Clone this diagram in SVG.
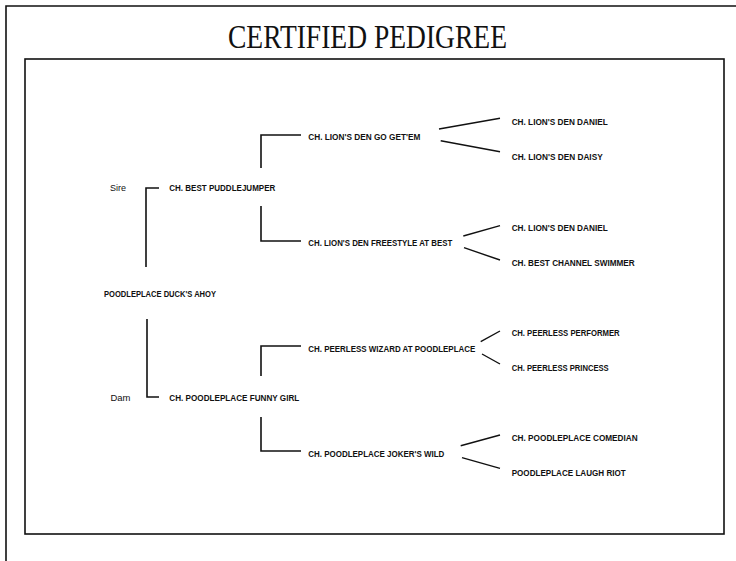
<svg xmlns="http://www.w3.org/2000/svg" width="736" height="561" viewBox="0 0 736 561">
<style>
.frame{fill:none;stroke:#111;stroke-width:1.6}
.title{font-family:"Liberation Serif","Times New Roman",serif;font-size:34px;fill:#111}
.name{font-family:"Liberation Sans",Arial,sans-serif;font-size:9.4px;font-weight:bold;fill:#111}
.lbl{font-family:"Liberation Sans",Arial,sans-serif;font-size:9px;fill:#111}
.br{fill:none;stroke:#111;stroke-width:1.6}
.fk{fill:none;stroke:#111;stroke-width:1.4}
</style>
<rect width="736" height="561" fill="#fff"/>
<g id="frame">
<path class="frame" d="M736 6 H6 V561"/>
<rect class="frame" x="25" y="59" width="699" height="475"/>
<text class="title" x="367.5" y="48" text-anchor="middle" textLength="279" lengthAdjust="spacingAndGlyphs">CERTIFIED PEDIGREE</text>
</g>
<g id="connectors">
<path class="br" d="M159 188 H146 V267"/>
<path class="br" d="M147 319 V397 H159"/>
<path class="br" d="M301 135 H261 V168"/>
<path class="br" d="M261 206 V241 H301"/>
<path class="br" d="M301 346 H261 V376"/>
<path class="br" d="M261 417 V451 H301"/>
<path class="fk" d="M439 129 L500 118.3 M440.7 140.7 L500 151.7"/>
<path class="fk" d="M463.3 236 L500 225.7 M464 247.7 L500 260"/>
<path class="fk" d="M480.7 341.7 L500 331 M482 354 L500 364"/>
<path class="fk" d="M460.7 445.7 L500 435 M462 457.7 L500 468.3"/>
</g>
<g id="label-sire"><text class="lbl" x="110" y="191" textLength="16" lengthAdjust="spacingAndGlyphs">Sire</text></g>
<g id="label-dam"><text class="lbl" x="110.5" y="400.5" textLength="20" lengthAdjust="spacingAndGlyphs">Dam</text></g>
<g id="subject"><text class="name" x="104" y="296.5" textLength="112" lengthAdjust="spacingAndGlyphs">POODLEPLACE DUCK'S AHOY</text></g>
<g id="sire"><text class="name" x="169.3" y="191" textLength="106" lengthAdjust="spacingAndGlyphs">CH. BEST PUDDLEJUMPER</text></g>
<g id="dam"><text class="name" x="169.3" y="400.5" textLength="130" lengthAdjust="spacingAndGlyphs">CH. POODLEPLACE FUNNY GIRL</text></g>
<g id="ss"><text class="name" x="308.3" y="140.3" textLength="112" lengthAdjust="spacingAndGlyphs">CH. LION'S DEN GO GET'EM</text></g>
<g id="sd"><text class="name" x="308.3" y="245.5" textLength="144" lengthAdjust="spacingAndGlyphs">CH. LION'S DEN FREESTYLE AT BEST</text></g>
<g id="ds"><text class="name" x="308.3" y="351.5" textLength="167" lengthAdjust="spacingAndGlyphs">CH. PEERLESS WIZARD AT POODLEPLACE</text></g>
<g id="dd"><text class="name" x="308.3" y="457" textLength="136" lengthAdjust="spacingAndGlyphs">CH. POODLEPLACE JOKER'S WILD</text></g>
<g id="sss"><text class="name" x="511.7" y="125" textLength="96" lengthAdjust="spacingAndGlyphs">CH. LION'S DEN DANIEL</text></g>
<g id="ssd"><text class="name" x="511.7" y="160" textLength="91" lengthAdjust="spacingAndGlyphs">CH. LION'S DEN DAISY</text></g>
<g id="sds"><text class="name" x="511.7" y="230.5" textLength="96" lengthAdjust="spacingAndGlyphs">CH. LION'S DEN DANIEL</text></g>
<g id="sdd"><text class="name" x="511.7" y="266" textLength="123" lengthAdjust="spacingAndGlyphs">CH. BEST CHANNEL SWIMMER</text></g>
<g id="dss"><text class="name" x="511.7" y="336" textLength="108" lengthAdjust="spacingAndGlyphs">CH. PEERLESS PERFORMER</text></g>
<g id="dsd"><text class="name" x="511.7" y="371" textLength="97" lengthAdjust="spacingAndGlyphs">CH. PEERLESS PRINCESS</text></g>
<g id="dds"><text class="name" x="511.7" y="440.7" textLength="126" lengthAdjust="spacingAndGlyphs">CH. POODLEPLACE COMEDIAN</text></g>
<g id="ddd"><text class="name" x="511.7" y="476" textLength="114" lengthAdjust="spacingAndGlyphs">POODLEPLACE LAUGH RIOT</text></g>
</svg>
